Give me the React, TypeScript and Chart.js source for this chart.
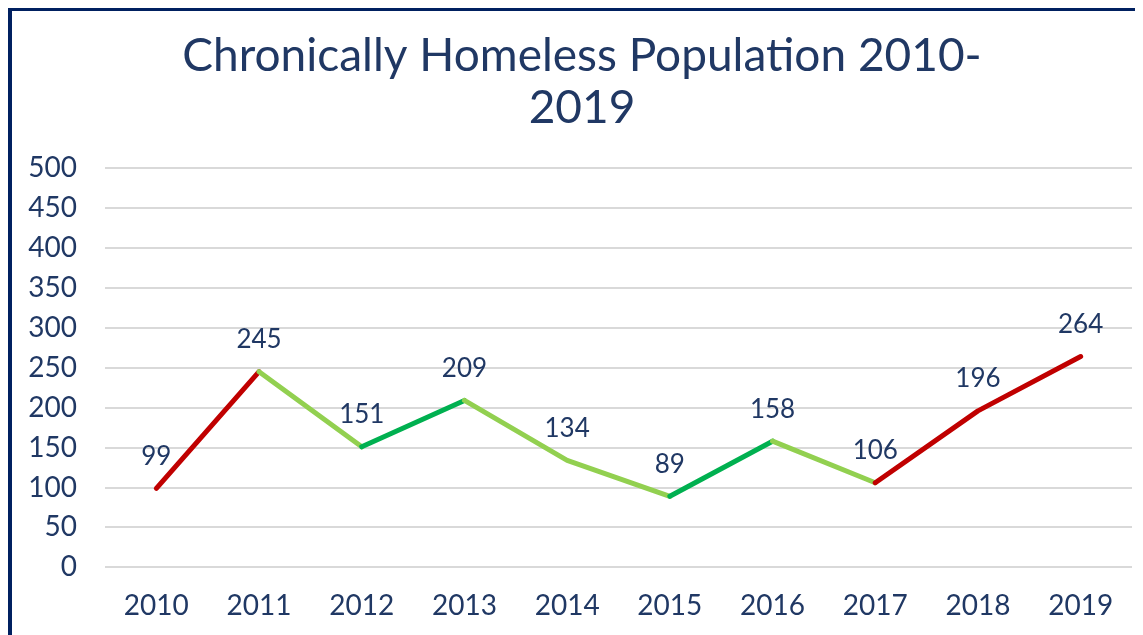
import React, { useEffect, useRef } from "react";
import { Chart, registerables } from "chart.js";

Chart.register(...registerables);

const years = ["2010", "2011", "2012", "2013", "2014", "2015", "2016", "2017", "2018", "2019"];
const homeless = [99, 245, 151, 209, 134, 89, 158, 106, 196, 264];
// colour of the segment that starts at each year
const segmentColors = ["#C00000", "#92D050", "#00B050", "#92D050", "#92D050", "#00B050", "#92D050", "#C00000", "#C00000"];
const titleLines = ["Chronically Homeless Population 2010-", "2019"];

const TEXT = "#203864";
const FONT = "Lato";

const titlePlugin = {
  id: "customTitle",
  afterDraw(chart: any) {
    const ctx = chart.ctx;
    ctx.save();
    ctx.font = `46px ${FONT}`;
    ctx.fillStyle = TEXT;
    ctx.textAlign = "center";
    ctx.textBaseline = "middle";
    titleLines.forEach((t, i) => ctx.fillText(t, 574, 48 + i * 52));
    ctx.restore();
  },
};

const labelPlugin = {
  id: "valueLabels",
  afterDatasetsDraw(chart: any) {
    const ctx = chart.ctx;
    const meta = chart.getDatasetMeta(0);
    ctx.save();
    ctx.font = `26px ${FONT}`;
    ctx.fillStyle = TEXT;
    ctx.textAlign = "center";
    ctx.textBaseline = "middle";
    meta.data.forEach((pt: any, i: number) => {
      ctx.fillText(String(homeless[i]), pt.x, pt.y - 32);
    });
    ctx.restore();
  },
};

export default function App() {
  const ref = useRef<HTMLCanvasElement>(null);
  useEffect(() => {
    if (!ref.current) return;
    const chart = new Chart(ref.current, {
      type: "line",
      data: {
        labels: years,
        datasets: [
          {
            data: homeless,
            borderWidth: 5,
            borderCapStyle: "round",
            borderJoinStyle: "round",
            pointRadius: 0,
            pointHoverRadius: 0,
            borderColor: "#C00000",
            segment: {
              borderColor: (c: any) => segmentColors[c.p0DataIndex],
            },
          },
        ],
      },
      options: {
        animation: false,
        responsive: false,
        maintainAspectRatio: false,
        layout: { padding: { left: 0, right: 11, top: 160, bottom: 13 } },
        plugins: {
          legend: { display: false },
          tooltip: { enabled: false },
          title: { display: false },
        },
        scales: {
          x: {
            offset: true,
            grid: { display: false, drawTicks: false },
            border: { display: false },
            ticks: { color: TEXT, font: { family: FONT, size: 28 }, padding: 22, maxRotation: 0 },
          },
          y: {
            min: 0,
            max: 500,
            afterFit: (s: any) => {
              s.width = 97;
            },
            grid: { color: "#D9D9D9", lineWidth: 2, drawTicks: false },
            border: { display: false },
            ticks: { stepSize: 50, color: TEXT, font: { family: FONT, size: 28 }, padding: 28 },
          },
        },
      },
      plugins: [labelPlugin, titlePlugin],
    });
    return () => chart.destroy();
  }, []);

  return (
    <div style={{ position: "relative", width: 1135, height: 627, overflow: "hidden", background: "#fff" }}>
      <div
        style={{
          position: "absolute",
          left: 0,
          top: 0,
          width: 1180,
          height: 680,
          boxSizing: "border-box",
          borderTop: "3px solid #002060",
          borderLeft: "4px solid #002060",
        }}
      />
      <canvas ref={ref} width={1135} height={650} style={{ position: "absolute", left: 0, top: 0 }} />
    </div>
  );
}
